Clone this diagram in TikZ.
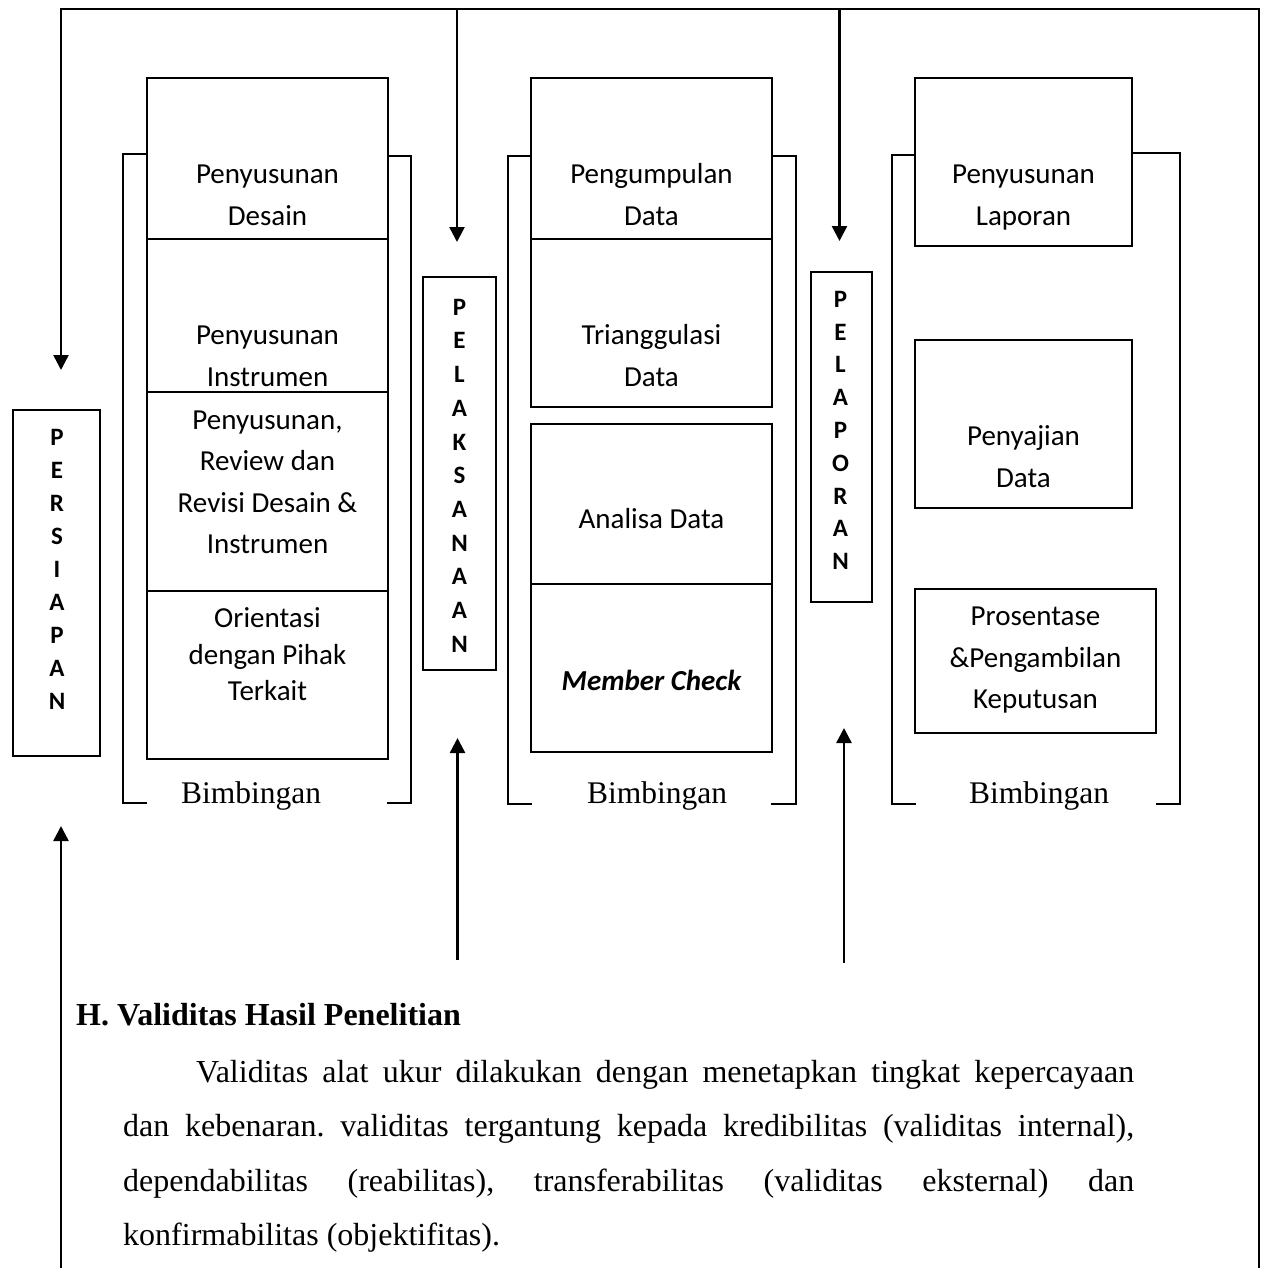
\documentclass[tikz,border=0pt]{standalone}
\usepackage{fontspec}
\setmainfont{Liberation Serif}
\newfontfamily\carl{Carlito}
\usetikzlibrary{arrows.meta,fit}
\begin{document}
\begin{tikzpicture}[x=1pt,y=-1pt,
  box/.style={draw,line width=1.6pt,inner sep=0pt,outer sep=0pt},
  brk/.style={draw,line width=1.6pt,line join=miter},
  conn/.style={line width=2.5pt,line join=miter,-{Triangle[width=15pt,length=15pt]}},
  txt/.style={align=center,inner sep=0pt,font={\carl\fontsize{29}{41.5}\selectfont}},
  vert/.style={align=center,inner sep=0pt,font={\carl\bfseries\fontsize{25}{#1}\selectfont}},
  bim/.style={anchor=base,inner sep=0pt,font={\fontsize{31.5}{38}\selectfont}}]
\useasboundingbox (0,0) rectangle (1264,1268);

% column 1 boxes
\node[box,fit={(147,78)(388,239)}] (b11) {};
\node[box,fit={(147,239)(388,392)}] (b12) {};
\node[box,fit={(147,392)(388,591)}] (b13) {};
\node[box,fit={(147,591)(388,759)}] (b14) {};
% column 2 boxes
\node[box,fit={(531,78)(772,239)}] (b21) {};
\node[box,fit={(531,239)(772,407)}] (b22) {};
\node[box,fit={(531,424)(772,584)}] (b23) {};
\node[box,fit={(531,584)(772,752)}] (b24) {};
% column 3 boxes
\node[box,fit={(915,78)(1132,246)}] (b31) {};
\node[box,fit={(915,340)(1132,508)}] (b32) {};
\node[box,fit={(915,589)(1156,733)}] (b33) {};
% side boxes
\node[box,fit={(13,410)(100,756)}] (persiapan) {};
\node[box,fit={(423,277)(496,670)}] (pelaksanaan) {};
\node[box,fit={(811,272)(872,602)}] (pelaporan) {};

% brackets
\draw[brk] (147,154) -- (123,154) -- (123,803) -- (147,803);
\draw[brk] (388,156) -- (411,156) -- (411,803) -- (387,803);
\draw[brk] (531,156) -- (508,156) -- (508,804) -- (532,804);
\draw[brk] (772,156) -- (796,156) -- (796,804) -- (771,804);
\draw[brk] (915,155) -- (892,155) -- (892,804) -- (916,804);
\draw[brk] (1132,153) -- (1180,153) -- (1180,804) -- (1156,804);

% box texts
\node[txt] (t11) at (267.5,196) {Penyusunan\strut\\Desain\strut};
\node[txt] (t12) at (267.5,357) {Penyusunan\strut\\Instrumen\strut};
\node[txt] (t13) at (267.5,483) {Penyusunan,\strut\\Review dan\strut\\Revisi Desain \&\strut\\Instrumen\strut};
\node[txt,font={\carl\fontsize{29}{36.5}\selectfont}] (t14) at (267.5,657) {Orientasi\strut\\dengan Pihak\strut\\Terkait\strut};
\node[txt] (t21) at (651.5,196) {Pengumpulan\strut\\Data\strut};
\node[txt] (t22) at (651.5,357) {Trianggulasi\strut\\Data\strut};
\node[txt] (t23) at (651.5,520) {Analisa Data\strut};
\node[txt,font={\carl\bfseries\itshape\fontsize{29}{41.5}\selectfont}] (t24) at (651.5,682) {Member Check\strut};
\node[txt] (t31) at (1023.5,196) {Penyusunan\strut\\Laporan\strut};
\node[txt] (t32) at (1023.5,458) {Penyajian\strut\\Data\strut};
\node[txt] (t33) at (1035.5,659) {Prosentase\strut\\\&Pengambilan\strut\\Keputusan\strut};

% vertical labels
\node[vert=33] (vp) at (57,571) {P\strut\\E\\R\\S\\I\\A\\P\\A\\N\strut};
\node[vert=33.7] (vl) at (459.5,477) {P\strut\\E\\L\\A\\K\\S\\A\\N\\A\\A\\N\strut};
\node[vert=32.8] (vr) at (840.5,432) {P\strut\\E\\L\\A\\P\\O\\R\\A\\N\strut};

% Bimbingan labels
\node[bim] (bim1) at (251,803) {Bimbingan};
\node[bim] (bim2) at (657,803) {Bimbingan};
\node[bim] (bim3) at (1039,803) {Bimbingan};

% connectors
\coordinate (br) at (1259,1268);
\coordinate (tr) at (1259,9);
\coordinate (tl) at (61,9);
\coordinate (tipP) at (61,370);
\coordinate (top1) at (457,9);
\coordinate (tip1) at (457,242);
\coordinate (top2) at (839.5,9);
\coordinate (tip2) at (839.5,241);
\coordinate (bl) at (61,1268);
\coordinate (tipU0) at (61,826);
\coordinate (bot1) at (457.5,960);
\coordinate (tipU1) at (457.5,738);
\coordinate (bot2) at (844,963);
\coordinate (tipU2) at (844,728);
\draw[conn] (br) -- (tr) -- (tl) -- (tipP);
\draw[conn] (top1) -- (tip1);
\draw[conn] (top2) -- (tip2);
\draw[conn] (bl) -- (tipU0);
\draw[conn] (bot1) -- (tipU1);
\draw[conn] (bot2) -- (tipU2);

% text below
\node[anchor=base west,inner sep=0pt,font={\bfseries\fontsize{32}{38}\selectfont}] (head) at (76,1025) {H. Validitas Hasil Penelitian};
\node[anchor=north west,inner sep=0pt,text width=1011pt,align=justify,
  font={\fontsize{32}{54.4}\selectfont}] (para) at (123,1044.1)
  {\parindent=0pt\frenchspacing\tolerance=10000\hyphenpenalty=10000\strut\hspace*{73pt}Validitas alat ukur dilakukan dengan menetapkan tingkat kepercayaan\linebreak dan kebenaran. validitas tergantung kepada kredibilitas (validitas internal),\linebreak dependabilitas (reabilitas), transferabilitas (validitas eksternal) dan\linebreak konfirmabilitas (objektifitas).};
\end{tikzpicture}
\end{document}
